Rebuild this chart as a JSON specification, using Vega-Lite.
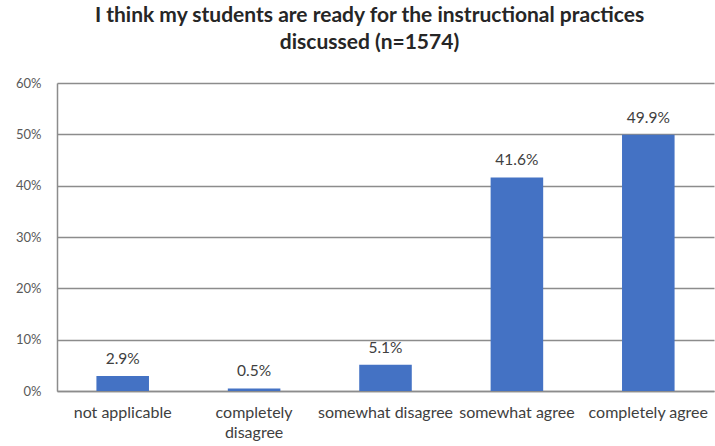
{
  "$schema": "https://vega.github.io/schema/vega-lite/v6.json",
  "width": 657,
  "height": 308,
  "autosize": "none",
  "padding": {"left": 57, "top": 83, "right": 1, "bottom": 55},
  "background": "white",
  "title": {
    "text": ["I think my students are ready for the instructional practices", "discussed (n=1574)"],
    "font": "Lato",
    "fontSize": 21,
    "fontWeight": "bold",
    "color": "#262626",
    "offset": 24,
    "lineHeight": 27,
    "dx": -16
  },
  "data": {
    "values": [
      {"category": "not applicable", "value": 0.029},
      {"category": "completely disagree", "value": 0.005},
      {"category": "somewhat disagree", "value": 0.051},
      {"category": "somewhat agree", "value": 0.416},
      {"category": "completely agree", "value": 0.499}
    ]
  },
  "encoding": {
    "x": {
      "field": "category",
      "type": "nominal",
      "sort": null,
      "scale": {"paddingInner": 0.6, "paddingOuter": 0.3},
      "axis": {
        "title": null,
        "labelAngle": 0,
        "labelFont": "Lato",
        "labelFontSize": 16,
        "labelColor": "#404040",
        "labelPadding": 13,
        "labelLineHeight": 20,
        "labelExpr": "datum.label == 'completely disagree' ? ['completely', 'disagree'] : datum.label",
        "ticks": false,
        "domainColor": "#8c8c8c",
        "domainWidth": 1.5
      }
    },
    "y": {
      "field": "value",
      "type": "quantitative",
      "scale": {"domain": [0, 0.6]},
      "axis": {
        "title": null,
        "values": [0, 0.1, 0.2, 0.3, 0.4, 0.5, 0.6],
        "format": ".0%",
        "labelFont": "Lato",
        "labelFontSize": 13,
        "labelColor": "#595959",
        "labelPadding": 16,
        "ticks": false,
        "grid": true,
        "gridColor": "#8c8c8c",
        "gridWidth": 1.5,
        "domainColor": "#8c8c8c",
        "domainWidth": 1.5
      }
    }
  },
  "layer": [
    {"mark": {"type": "bar", "color": "#4472C4"}},
    {
      "mark": {"type": "text", "baseline": "bottom", "dy": -9, "font": "Lato", "fontSize": 15.5, "color": "#404040"},
      "encoding": {"text": {"field": "value", "type": "quantitative", "format": ".1%"}}
    }
  ],
  "config": {"view": {"stroke": null}}
}
